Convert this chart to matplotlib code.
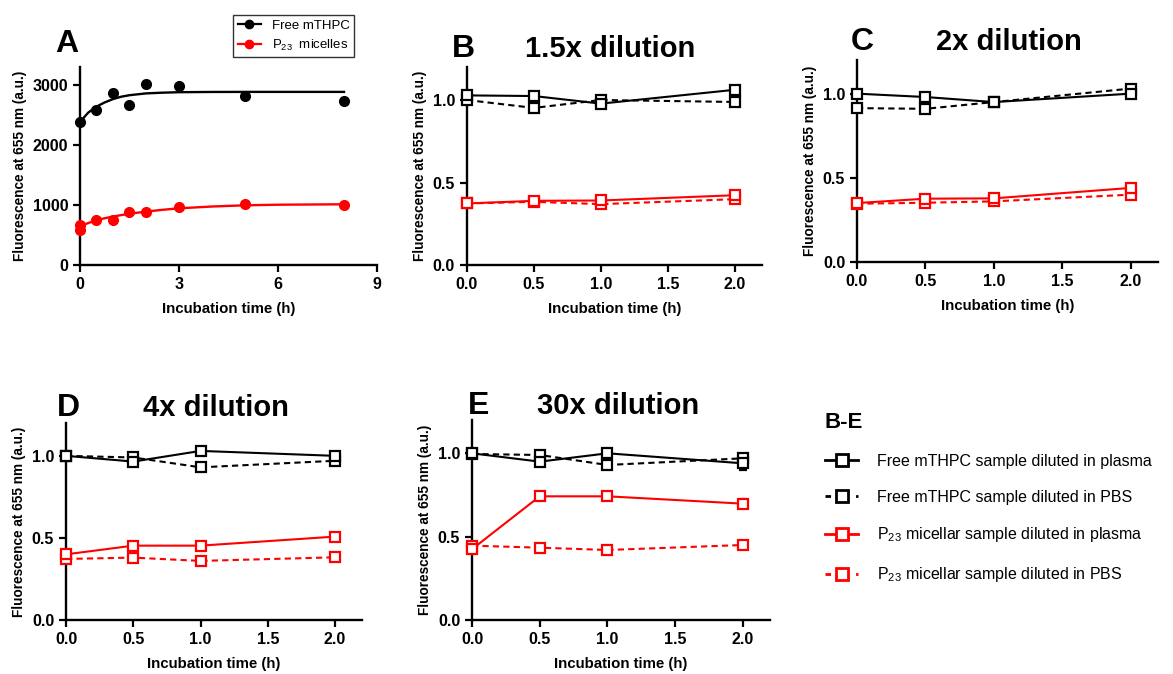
import numpy as np
import matplotlib
matplotlib.use("Agg")
import matplotlib.pyplot as plt
from matplotlib.lines import Line2D

plt.rcParams['font.family'] = ['Liberation Sans', 'DejaVu Sans']
plt.rcParams['mathtext.fontset'] = 'custom'
plt.rcParams['mathtext.rm'] = 'Liberation Sans'

# ---- panel A: release kinetics ----
tA = [0, 0, 0.5, 1, 1.5, 2, 3, 5, 8]
free_pts = [2383, np.nan, 2583, 2872, 2667, 3017, 2989, 2817, 2733]
mic_pts = [667, 585, 750, 750, 878, 878, 972, 1011, 1005]

# fitted curves
t_fit = [0, 0.25, 0.5, 0.75, 1, 1.25, 1.5, 2, 2.5, 3, 4, 5, 6, 8]
free_fit = [2385, 2540, 2640, 2710, 2765, 2805, 2830, 2860, 2872, 2880, 2884, 2885, 2885, 2885]
mic_fit = [645, 700, 745, 780, 808, 832, 855, 890, 920, 945, 975, 995, 1005, 1012]

# ---- panels B-E: dilution ----
t_dil = [0, 0.5, 1.0, 2.0]
titles = ['1.5x dilution', '2x dilution', '4x dilution', '30x dilution']
letters = ['B', 'C', 'D', 'E']

free_plasma = [[1.028, 1.024, 0.978, 1.062],
               [1.00, 0.98, 0.95, 1.00],
               [1.00, 0.965, 1.03, 1.00],
               [1.00, 0.95, 1.00, 0.94]]
free_pbs = [[1.00, 0.952, 1.00, 0.988],
            [0.914, 0.91, 0.95, 1.03],
            [1.00, 0.99, 0.93, 0.97],
            [0.996, 0.99, 0.93, 0.97]]
mic_plasma = [[0.373, 0.389, 0.391, 0.423],
              [0.35, 0.376, 0.378, 0.44],
              [0.40, 0.453, 0.453, 0.508],
              [0.425, 0.742, 0.742, 0.698]]
mic_pbs = [[0.373, 0.383, 0.369, 0.399],
           [0.346, 0.352, 0.36, 0.40],
           [0.372, 0.38, 0.36, 0.382],
           [0.446, 0.434, 0.42, 0.45]]
# error bars (mostly hidden under markers)
free_plasma_err = [[0, 0, 0, 0], [0, 0, 0, 0], [0, 0, 0, 0], [0, 0, 0, 0.04]]
mic_plasma_err = [[0, 0, 0, 0], [0, 0, 0, 0], [0, 0, 0, 0], [0, 0, 0, 0.025]]

series_labels = ['Free mTHPC sample diluted in plasma',
                 'Free mTHPC sample diluted in PBS',
                 r'P$_{\mathregular{23}}$ micellar sample diluted in plasma',
                 r'P$_{\mathregular{23}}$ micellar sample diluted in PBS']

RED = '#ff0000'
ylab = 'Fluorescence at 655 nm (a.u.)'
xlab = 'Incubation time (h)'
DASH = (3, 2)


def style_axes(ax):
    for s in ['top', 'right']:
        ax.spines[s].set_visible(False)
    for s in ['left', 'bottom']:
        ax.spines[s].set_linewidth(1.7)
    ax.tick_params(direction='out', length=5, width=1.6, labelsize=11.5)
    for lab in ax.get_xticklabels() + ax.get_yticklabels():
        lab.set_fontweight('bold')
    ax.set_xlabel(xlab, fontsize=10.8, fontweight='bold', labelpad=7)
    ax.set_ylabel(ylab, fontsize=9.8, fontweight='bold', labelpad=4)


fig = plt.figure(figsize=(11.73, 6.74), dpi=100)

# panel A
axA = fig.add_axes([0.0682, 0.6068, 0.2532, 0.2938])
axA.plot(t_fit, free_fit, color='black', lw=1.7, zorder=2)
axA.plot(t_fit, mic_fit, color=RED, lw=1.7, zorder=2)
axA.plot(tA, free_pts, 'o', color='black', ms=7, zorder=3, clip_on=False)
axA.plot(tA, mic_pts, 'o', color=RED, ms=7, zorder=3, clip_on=False)
axA.set_xlim(0, 9)
axA.set_ylim(0, 3300)
axA.set_xticks([0, 3, 6, 9])
axA.set_yticks([0, 1000, 2000, 3000])
style_axes(axA)
fig.text(0.047, 0.935, 'A', fontsize=23, fontweight='bold', ha='left', va='center')

legA = fig.legend(handles=[Line2D([], [], color='black', marker='o', ms=6, lw=1.6),
                           Line2D([], [], color=RED, marker='o', ms=6, lw=1.6)],
                  labels=['Free mTHPC', r'P$_{\mathregular{23}}$  micelles'],
                  loc='upper left', bbox_to_anchor=(0.1986, 0.978), fontsize=9.5,
                  frameon=True, fancybox=False, edgecolor='black', handlelength=1.8,
                  handletextpad=0.8, labelspacing=0.45, borderpad=0.35, borderaxespad=0)
legA.get_frame().set_linewidth(1.0)

positions = [[0.398, 0.6068, 0.2515, 0.2938],
             [0.7306, 0.6113, 0.2566, 0.2997],
             [0.0563, 0.0801, 0.2523, 0.2923],
             [0.4024, 0.0801, 0.254, 0.2968]]
title_x = [0.52, 0.86, 0.184, 0.527]
letter_x = [0.385, 0.725, 0.0486, 0.399]
title_y = [0.928, 0.937, 0.394, 0.397]

for i in range(4):
    ax = fig.add_axes(positions[i])
    ax.errorbar(t_dil, free_plasma[i], yerr=free_plasma_err[i], color='black', lw=1.5,
                marker='s', ms=7.5, mfc='white', mec='black', mew=1.6, capsize=3,
                elinewidth=1.5, clip_on=False, zorder=3)
    ax.plot(t_dil, free_pbs[i], color='black', lw=1.5, dashes=DASH, marker='s', ms=7.5,
            mfc='white', mec='black', mew=1.6, clip_on=False, zorder=3)
    ax.errorbar(t_dil, mic_plasma[i], yerr=mic_plasma_err[i], color=RED, lw=1.5,
                marker='s', ms=7.5, mfc='white', mec=RED, mew=1.6, capsize=3,
                elinewidth=1.5, clip_on=False, zorder=3)
    ax.plot(t_dil, mic_pbs[i], color=RED, lw=1.5, dashes=DASH, marker='s', ms=7.5,
            mfc='white', mec=RED, mew=1.6, clip_on=False, zorder=3)
    ax.set_xlim(0, 2.2)
    ax.set_ylim(0, 1.2)
    ax.set_xticks([0.0, 0.5, 1.0, 1.5, 2.0])
    ax.set_yticks([0.0, 0.5, 1.0])
    ax.xaxis.set_major_formatter(matplotlib.ticker.FormatStrFormatter('%.1f'))
    ax.yaxis.set_major_formatter(matplotlib.ticker.FormatStrFormatter('%.1f'))
    style_axes(ax)
    fig.text(letter_x[i], title_y[i], letters[i], fontsize=23, fontweight='bold',
             ha='left', va='center')
    fig.text(title_x[i], title_y[i], titles[i], fontsize=21, fontweight='bold',
             ha='center', va='center')

handles = [Line2D([], [], color='black', lw=2, marker='s', ms=9, mfc='white', mew=2),
           Line2D([], [], color='black', lw=2, dashes=(2, 3.5), marker='s', ms=9,
                  mfc='white', mew=2),
           Line2D([], [], color=RED, lw=2, marker='s', ms=9, mfc='white', mew=2),
           Line2D([], [], color=RED, lw=2, dashes=(2, 3.5), marker='s', ms=9,
                  mfc='white', mew=2)]
leg = fig.legend(handles=handles, labels=series_labels, loc='upper left',
                 bbox_to_anchor=(0.691, 0.41), fontsize=11.5, frameon=False,
                 handlelength=2.1, handletextpad=1.15, labelspacing=1.3,
                 title='B-E', title_fontproperties={'weight': 'bold', 'size': 16})
leg._legend_box.align = 'left'

fig.savefig('out.png', dpi=100)
